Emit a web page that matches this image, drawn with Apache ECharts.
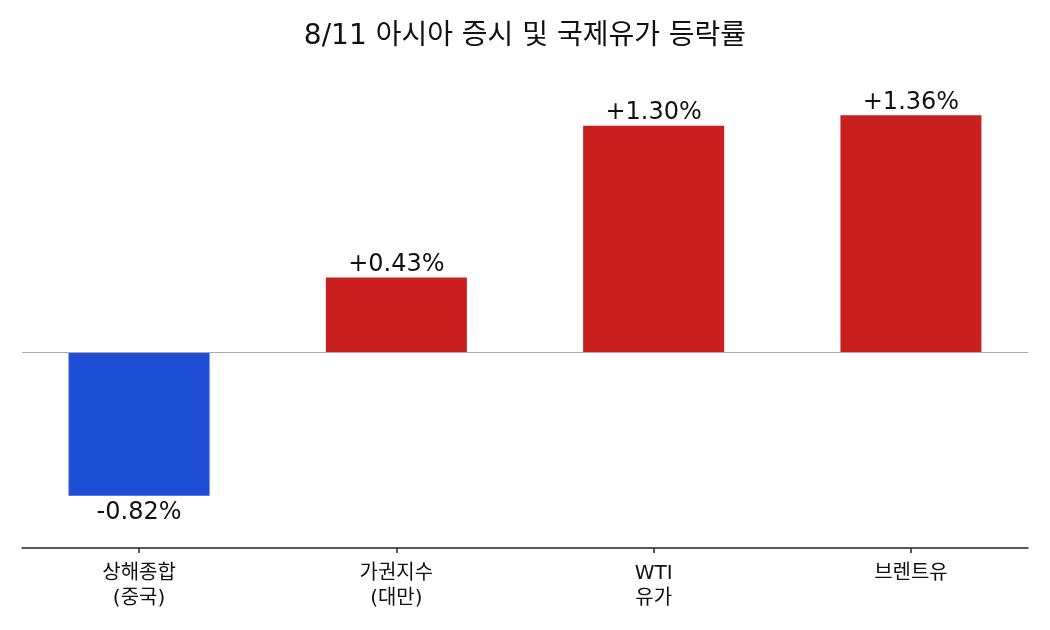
<!DOCTYPE html>
<html>
<head>
<meta charset="utf-8">
<script src="https://cdn.jsdelivr.net/npm/echarts@6/dist/echarts.min.js"></script>
<style>html,body{margin:0;padding:0;background:#fff}#c{width:1050px;height:630px}</style>
</head>
<body>
<div id="c"></div>
<script>
const categories = ['상해종합\n(중국)', '가권지수\n(대만)', 'WTI\n유가', '브렌트유'];
const values = [-0.82, 0.43, 1.30, 1.36];
const positions = [0, 1, 2, 3];
const titleText = '8/11 아시아 증시 및 국제유가 등락률';

const FONT = '"Noto Sans CJK KR", "Noto Sans", sans-serif';
const NUMFONT = '"DejaVu Sans", "Noto Sans CJK KR", sans-serif';
const chart = echarts.init(document.getElementById('c'));
chart.setOption({
  backgroundColor: '#ffffff',
  animation: false,
  title: {
    text: titleText, left: 'center', top: 18,
    textStyle: {fontFamily: NUMFONT, fontSize: 28, fontWeight: 'normal', color: '#111'}
  },
  grid: {left: 22, right: 22, top: 63, bottom: 82},
  xAxis: {
    type: 'value', min: -0.455, max: 3.455,
    splitLine: {show: false},
    axisLine: {show: true, onZero: false, lineStyle: {color: '#222', width: 1.5}},
    axisTick: {show: true, customValues: positions, length: 5, lineStyle: {color: '#222', width: 1.5}},
    axisLabel: {
      customValues: positions, color: '#111', fontFamily: NUMFONT, fontSize: 20, lineHeight: 25, margin: 13,
      formatter: v => categories[Math.round(v)]
    }
  },
  yAxis: {
    type: 'value', min: -1.12, max: 1.66, show: false, splitLine: {show: false}
  },
  series: [{
    type: 'bar',
    barWidth: 141,
    data: values.map((v, i) => ({
      value: [positions[i], v],
      itemStyle: {color: v < 0 ? '#1f4fd6' : '#c91f1f'},
      label: {position: v < 0 ? 'bottom' : 'top', distance: v < 0 ? 5 : 1}
    })),
    label: {
      show: true, color: '#111', fontFamily: NUMFONT, fontSize: 24,
      formatter: p => (p.value[1] > 0 ? '+' : '') + p.value[1].toFixed(2) + '%'
    },
    markLine: {
      silent: true, symbol: 'none', label: {show: false},
      lineStyle: {color: '#aaaaaa', width: 1.2, type: 'solid'},
      data: [{yAxis: 0}]
    }
  }]
});
</script>
</body>
</html>
